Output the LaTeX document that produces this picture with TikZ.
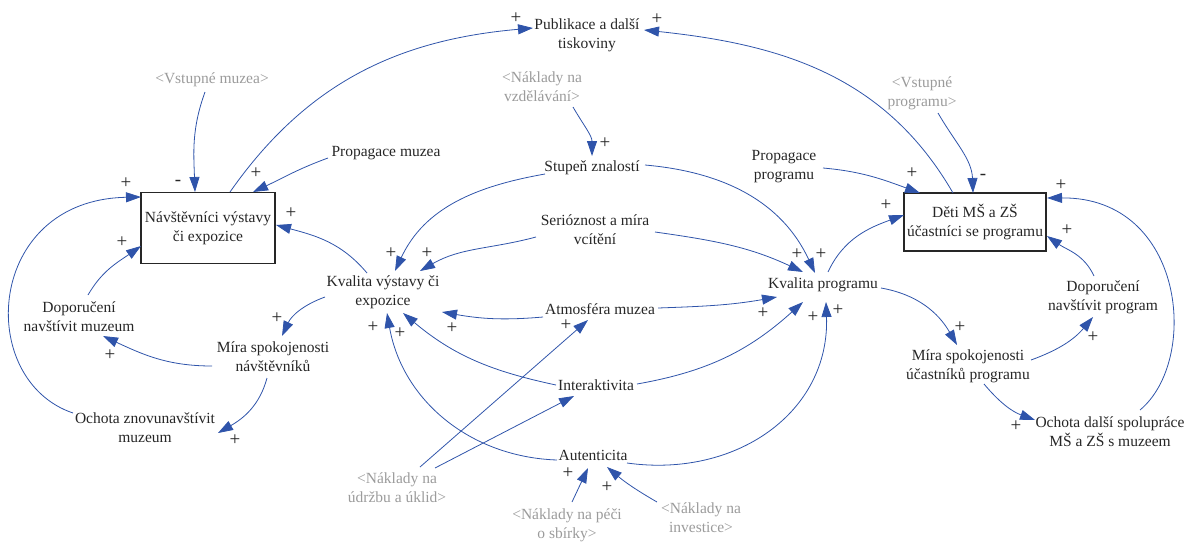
\documentclass[tikz,border=0pt]{standalone}
\usepackage{fontspec}
\setmainfont{Liberation Serif}
\usetikzlibrary{arrows.meta}
\definecolor{linkblue}{RGB}{47,84,170}
\definecolor{txt}{RGB}{38,38,38}
\definecolor{ghost}{RGB}{155,155,155}
\begin{document}
\begin{tikzpicture}[x=1pt,y=1pt,
  var/.style={font=\fontsize{15.5}{19}\selectfont, text=txt, align=center, inner sep=2pt},
  shadowvar/.style={var, text=ghost},
  stock/.style={var, draw=txt, line width=1.1pt},
  link/.style={draw=linkblue, line width=0.8pt, -{Triangle[length=15pt,width=10pt]}},
  pol/.style={font=\fontsize{19}{19}\selectfont, text=txt, inner sep=0pt}]
\useasboundingbox (0,0) rectangle (1190,-541);

% nodes
\node[var] (pub) at (587,-35) {Publikace a další\\tiskoviny};
\node[shadowvar] (vstm) at (212,-80) {<Vstupné muzea>};
\node[var] (prop) at (386,-153) {Propagace muzea};
\node[stock, minimum width=134, minimum height=71] (nav) at (208,-228) {Návštěvníci výstavy\\či expozice};
\node[shadowvar] (nakvzd) at (542,-87) {<Náklady na\\vzdělávání>};
\node[var] (stup) at (592,-168) {Stupeň znalostí};
\node[var] (ser) at (595,-230) {Serióznost a míra\\vcítění};
\node[var] (kvv) at (383,-292) {Kvalita výstavy či\\expozice};
\node[var] (atm) at (600,-309) {Atmosféra muzea};
\node[var] (inter) at (596,-385) {Interaktivita};
\node[var] (aut) at (593,-455) {Autenticita};
\node[shadowvar] (nku) at (397,-488) {<Náklady na\\údržbu a úklid>};
\node[shadowvar] (npece) at (567,-525) {<Náklady na péči\\o sbírky>};
\node[shadowvar] (ninv) at (701,-518) {<Náklady na\\investice>};
\node[var] (kvp) at (823,-285) {Kvalita programu};
\node[shadowvar] (vstp) at (922,-93) {<Vstupné\\programu>};
\node[var] (propp) at (784,-167) {Propagace\\programu};
\node[stock, minimum width=142, minimum height=58] (deti) at (975,-222) {Děti MŠ a ZŠ\\účastníci se programu};
\node[var] (dopp) at (1103,-297) {Doporučení\\navštívit program};
\node[var] (mirap) at (968,-366) {Míra spokojenosti\\účastníků programu};
\node[var] (ochp) at (1110,-432) {Ochota další spolupráce\\MŠ a ZŠ s muzeem};
\node[var] (dopm) at (79,-317) {Doporučení\\navštívit muzeum};
\node[var] (miram) at (273,-357) {Míra spokojenosti\\návštěvníků};
\node[var] (ochm) at (145,-428) {Ochota znovunavštívit\\muzeum};

% connectors
\draw[link] ([shift={(22,36)}]nav.center) to[out=55,in=185] ([shift={(-54,7)}]pub.center);
\draw[link] ([shift={(-22,29)}]deti.center) to[out=120,in=-6] ([shift={(57,5)}]pub.center);
\draw[link] ([shift={(-7,-12)}]vstm.center) to[out=250,in=92] ([shift={(-13,36)}]nav.center);
\draw[link] ([shift={(-58,-5)}]prop.center) to[out=200,in=25] ([shift={(45,36)}]nav.center);
\draw[link] ([shift={(-16,19)}]kvv.center) to[out=130,in=-15] ([shift={(68,3)}]nav.center);
\draw[link] ([shift={(9,22)}]dopm.center) to[out=60,in=215] ([shift={(-67,-18)}]nav.center);
\draw[link] ([shift={(-72,15)}]ochm.center) .. controls (-25,-380) and (-15,-200) .. ([shift={(-67,31)}]nav.center);
\draw[link] ([shift={(-61,-9)}]miram.center) to[out=180,in=-25] ([shift={(24,-19)}]dopm.center);
\draw[link] ([shift={(-58,-5)}]kvv.center) to[out=200,in=65] ([shift={(9,21)}]miram.center);
\draw[link] ([shift={(-6,-21)}]miram.center) to[out=-105,in=30] ([shift={(73,-5)}]ochm.center);
\draw[link] ([shift={(31,-20)}]nakvzd.center) to[out=-60,in=90] ([shift={(0,12)}]stup.center);
\draw[link] ([shift={(-47,-6)}]stup.center) to[out=190,in=65] ([shift={(12,21)}]kvv.center);
\draw[link] ([shift={(-59,-7)}]ser.center) to[out=195,in=30] ([shift={(37,21)}]kvv.center);
\draw[link] ([shift={(53,3)}]stup.center) to[out=-5,in=115] ([shift={(-8,12)}]kvp.center);
\draw[link] ([shift={(60,-2)}]ser.center) to[out=-8,in=155] ([shift={(-20,13)}]kvp.center);
\draw[link] ([shift={(-57,-8)}]atm.center) to[out=185,in=-10] ([shift={(59,-20)}]kvv.center);
\draw[link] ([shift={(58,1)}]atm.center) to[out=2,in=190] ([shift={(-46,-12)}]kvp.center);
\draw[link] ([shift={(-40,0)}]inter.center) to[out=168,in=-40] ([shift={(20,-21)}]kvv.center);
\draw[link] ([shift={(-36,-5)}]aut.center) to[out=178,in=-80] ([shift={(4,-21)}]kvv.center);
\draw[link] ([shift={(41,1)}]inter.center) to[out=10,in=222] ([shift={(-20,-17)}]kvp.center);
\draw[link] ([shift={(34,-8)}]aut.center) to[out=-8,in=-88,looseness=1.1] ([shift={(3,-17)}]kvp.center);
\draw[link] ([shift={(23,21)}]nku.center) -- ([shift={(-12,-11)}]atm.center);
\draw[link] ([shift={(38,20)}]nku.center) -- ([shift={(-22,-11)}]inter.center);
\draw[link] ([shift={(5,23)}]npece.center) -- ([shift={(-5,-13)}]aut.center);
\draw[link] ([shift={(-44,16)}]ninv.center) to[bend left=5] ([shift={(14,-12)}]aut.center);
\draw[link] ([shift={(58,-3)}]kvp.center) to[out=-10,in=120] ([shift={(-11,21)}]mirap.center);
\draw[link] ([shift={(5,13)}]kvp.center) to[out=65,in=200] ([shift={(-71,7)}]deti.center);
\draw[link] ([shift={(39,-1)}]propp.center) to[out=-5,in=160] ([shift={(-55,29)}]deti.center);
\draw[link] ([shift={(16,-20)}]vstp.center) to[out=-60,in=92] ([shift={(-2,29)}]deti.center);
\draw[link] ([shift={(63,6)}]mirap.center) to[out=20,in=230] ([shift={(-10,-20)}]dopp.center);
\draw[link] ([shift={(-9,21)}]dopp.center) to[out=115,in=-35] ([shift={(72,-14)}]deti.center);
\draw[link] ([shift={(30,22)}]ochp.center) .. controls (1200,-360) and (1185,-197) .. ([shift={(72,24)}]deti.center);
\draw[link] ([shift={(16,-18)}]mirap.center) to[out=-50,in=160] ([shift={(-75,12)}]ochp.center);

% polarities
\node[pol] (p1) at (516,-18) {+};
\node[pol] (p2) at (657,-19) {+};
\node[pol] (p3) at (178,-183) {-};
\node[pol] (p4) at (256,-173) {+};
\node[pol] (p5) at (291,-213) {+};
\node[pol] (p6) at (122,-242) {+};
\node[pol] (p7) at (126,-183) {+};
\node[pol] (p8) at (110,-355) {+};
\node[pol] (p9) at (277,-318) {+};
\node[pol] (p10) at (235,-440) {+};
\node[pol] (p11) at (605,-143) {+};
\node[pol] (p12) at (391,-253) {+};
\node[pol] (p13) at (427,-253) {+};
\node[pol] (p14) at (821,-254) {+};
\node[pol] (p15) at (797,-254) {+};
\node[pol] (p16) at (452,-328) {+};
\node[pol] (p17) at (763,-313) {+};
\node[pol] (p18) at (400,-333) {+};
\node[pol] (p19) at (373,-327) {+};
\node[pol] (p20) at (813,-317) {+};
\node[pol] (p21) at (838,-310) {+};
\node[pol] (p22) at (566,-325) {+};
\node[pol] (p23) at (568,-473) {+};
\node[pol] (p24) at (607,-487) {+};
\node[pol] (p25) at (960,-327) {+};
\node[pol] (p26) at (886,-205) {+};
\node[pol] (p27) at (912,-173) {+};
\node[pol] (p28) at (983,-177) {-};
\node[pol] (p29) at (1093,-337) {+};
\node[pol] (p30) at (1067,-230) {+};
\node[pol] (p31) at (1061,-185) {+};
\node[pol] (p32) at (1016,-426) {+};
\end{tikzpicture}
\end{document}
